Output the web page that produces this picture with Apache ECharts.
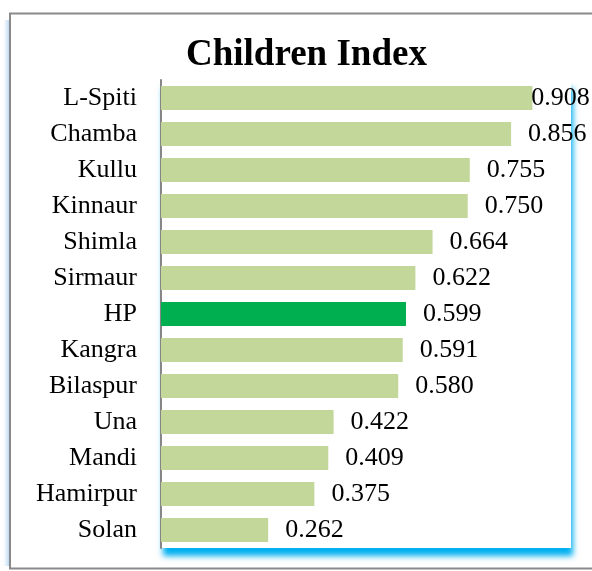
<!DOCTYPE html>
<html>
<head>
<meta charset="utf-8">
<script src="https://cdn.jsdelivr.net/npm/echarts@6/dist/echarts.min.js"></script>
<style>
  html, body { margin: 0; padding: 0; background: #fff; }
  #chart { width: 592px; height: 571px; }
</style>
</head>
<body>
<div id="chart"></div>
<script>
// District names, top to bottom
const districts = ['L-Spiti', 'Chamba', 'Kullu', 'Kinnaur', 'Shimla', 'Sirmaur', 'HP',
  'Kangra', 'Bilaspur', 'Una', 'Mandi', 'Hamirpur', 'Solan'];
// Children Index per district
const indexValues = [0.908, 0.856, 0.755, 0.750, 0.664, 0.622, 0.599,
  0.591, 0.580, 0.422, 0.409, 0.375, 0.262];
// State average row gets its own colour
const highlightName = 'HP';

const FONT = '"Liberation Serif", "Times New Roman", serif';
const barColor = '#c4d79b';
const hpColor = '#00b050';

const seriesData = districts.map((name, i) => ({
  value: indexValues[i],
  itemStyle: { color: name === highlightName ? hpColor : barColor },
  label: i === 0 ? { distance: -1 } : undefined
}));

const chart = echarts.init(document.getElementById('chart'), null, { renderer: 'canvas' });
chart.setOption({
  animation: false,
  backgroundColor: '#ffffff',
  title: {
    text: 'Children Index',
    left: 186,
    top: 37,
    textStyle: { fontFamily: FONT, fontWeight: 'bold', fontSize: 37, color: '#000' },
    padding: 0,
    itemGap: 0
  },
  grid: { left: 161, right: 22, top: 80, bottom: 23, containLabel: false },
  xAxis: {
    type: 'value', min: 0, max: 1,
    show: false
  },
  yAxis: {
    type: 'category',
    data: districts,
    inverse: true,
    axisLine: { show: true, lineStyle: { color: '#868686', width: 2 } },
    axisTick: { show: false },
    axisLabel: { fontFamily: FONT, fontSize: 26, color: '#000', margin: 24 },
    splitLine: { show: false }
  },
  graphic: [
    // outer frame
    { type: 'rect', z: -10, shape: { x: 10, y: 13.5, width: 600, height: 555 },
      style: { fill: '#fff', stroke: '#8a8a8a', lineWidth: 2 } },
    // soft glow along the left edge of the frame
    { type: 'rect', z: -11, shape: { x: 3, y: 20, width: 7, height: 546 },
      style: { fill: new echarts.graphic.LinearGradient(0, 0, 1, 0, [
        { offset: 0, color: 'rgba(200,225,245,0)' },
        { offset: 1, color: 'rgba(150,195,235,0.8)' }
      ]) } },
    // plot panel with blue drop shadow
    { type: 'rect', z: -5, shape: { x: 161, y: 80, width: 410, height: 468 },
      style: { fill: '#fff', shadowColor: 'rgba(0,176,240,1)', shadowBlur: 6,
        shadowOffsetX: 2, shadowOffsetY: 8 } }
  ],
  series: [{
    type: 'bar',
    data: seriesData,
    barWidth: 24,
    label: {
      show: true,
      position: 'right',
      distance: 17,
      fontFamily: FONT,
      fontSize: 26,
      color: '#000',
      formatter: p => p.value.toFixed(3)
    }
  }]
});
</script>
</body>
</html>
